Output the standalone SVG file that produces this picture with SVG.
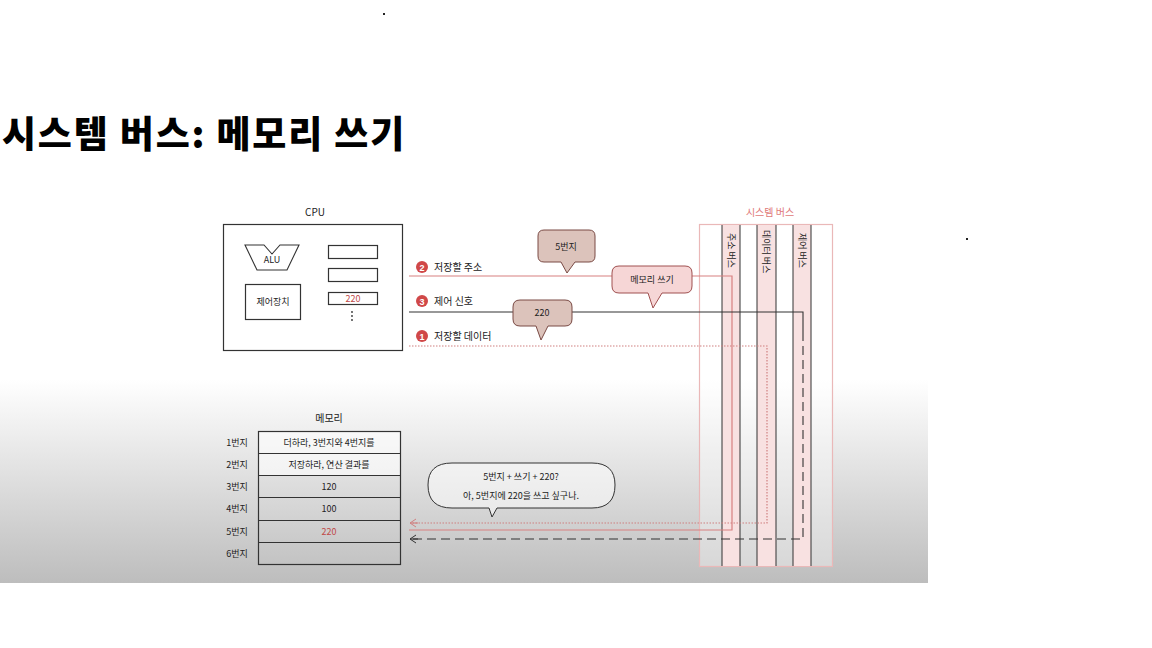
<svg xmlns="http://www.w3.org/2000/svg" width="1152" height="648" viewBox="0 0 1152 648">
<defs>
<linearGradient id="bg" x1="0" y1="380" x2="0" y2="583" gradientUnits="userSpaceOnUse">
<stop offset="0" stop-color="#ffffff"/>
<stop offset="1" stop-color="#bdbdbd"/>
</linearGradient>
<marker id="chevR" markerWidth="10" markerHeight="10" refX="7" refY="5" orient="auto" markerUnits="userSpaceOnUse">
<polyline points="1,1 7,5 1,9" fill="none" stroke="#d08080" stroke-width="1"/>
</marker>
<marker id="chevK" markerWidth="10" markerHeight="10" refX="7" refY="5" orient="auto" markerUnits="userSpaceOnUse">
<polyline points="1,1 7,5 1,9" fill="none" stroke="#333" stroke-width="1"/>
</marker>
</defs>
<style>
text{font-family:"Noto Sans CJK KR","Noto Sans",sans-serif;fill:#222}
.t{font-size:10px}
.s{font-size:9px}
.red{fill:#c04848}
.box{fill:#fff;stroke:#333;stroke-width:1.2}
.cell{fill:none;stroke:#333;stroke-width:1}
.bubB{fill:#dcc3bb;stroke:#7a4a44;stroke-width:1}
.bubP{fill:#f6d6d6;stroke:#a05050;stroke-width:1}
.num{fill:#d04848}
.numt{fill:#fff;font-size:9px;font-weight:bold;font-family:"Liberation Sans",sans-serif}
.busl{stroke:#333;stroke-width:1}
.pcol{fill:#f8e1e1}
</style>
<rect x="0" y="180" width="928" height="403" fill="url(#bg)"/>
<rect x="383" y="13" width="2" height="2" fill="#222"/>
<rect x="966" y="238" width="2" height="2" fill="#222"/>
<text x="2" y="148" style="font-size:37px;font-weight:900;fill:#000;letter-spacing:1.8px">시스템 버스: 메모리 쓰기</text>

<g id="bus">
<text x="770" y="216" text-anchor="middle" style="font-size:10px;fill:#e07878">시스템 버스</text>
<rect x="699.5" y="224.5" width="133" height="342" fill="#fff" fill-opacity="0.35" stroke="#eab8b8" stroke-width="1.2"/>
<rect class="pcol" x="722" y="225" width="18" height="341"/>
<rect class="pcol" x="757" y="225" width="19" height="341"/>
<rect class="pcol" x="793" y="225" width="18" height="341"/>
<line class="busl" x1="722" y1="225" x2="722" y2="566"/>
<line class="busl" x1="740" y1="225" x2="740" y2="566"/>
<line class="busl" x1="757" y1="225" x2="757" y2="566"/>
<line class="busl" x1="776" y1="225" x2="776" y2="566"/>
<line class="busl" x1="793" y1="225" x2="793" y2="566"/>
<line class="busl" x1="811" y1="225" x2="811" y2="566"/>
<text class="s" transform="translate(728,233) rotate(90)">주소 버스</text>
<text class="s" transform="translate(763,230) rotate(90)">데이터 버스</text>
<text class="s" transform="translate(799,233) rotate(90)">제어 버스</text>
</g>

<g id="connectors">
<polyline points="409,276 732,276 732,530 409,530" fill="none" stroke="#d88080" stroke-width="1.2"/>
<polyline points="409,312 803,312 803,332" fill="none" stroke="#333" stroke-width="1.1"/>
<polyline points="803,332 803,539 412,539" fill="none" stroke="#333" stroke-width="1.1" stroke-dasharray="9 5"/>
<polyline points="409,346 767,346 767,523 412,523" fill="none" stroke="#d08080" stroke-width="1.2" stroke-dasharray="1.5 1.5"/>
<line x1="418" y1="539" x2="410" y2="539" stroke="#333" stroke-width="1.1" marker-end="url(#chevK)"/>
<line x1="418" y1="523" x2="410" y2="523" stroke="#d08080" stroke-width="1.1" marker-end="url(#chevR)"/>
</g>

<g id="labels">
<circle class="num" cx="422" cy="267" r="6"/><text class="numt" x="422" y="270.5" text-anchor="middle">2</text>
<text class="t" x="434" y="271">저장할 주소</text>
<circle class="num" cx="422" cy="301" r="6"/><text class="numt" x="422" y="304.5" text-anchor="middle">3</text>
<text class="t" x="434" y="305">제어 신호</text>
<circle class="num" cx="422" cy="336" r="6"/><text class="numt" x="422" y="339.5" text-anchor="middle">1</text>
<text class="t" x="434" y="340">저장할 데이터</text>
</g>

<g id="bubble-addr">
<path class="bubB" d="M546,230 H589 Q595,230 595,236 V256 Q595,262 589,262 H575 L567,273 L561,262 H544 Q538,262 538,256 V236 Q538,230 544,230 Z"/>
<text class="s" x="566" y="250" text-anchor="middle">5번지</text>
</g>
<g id="bubble-write">
<path class="bubP" d="M619,266 H685 Q692,266 692,273 V286 Q692,293 685,293 H662 L653,308 L648,293 H619 Q612,293 612,286 V273 Q612,266 619,266 Z"/>
<text class="s" x="652" y="283" text-anchor="middle">메모리 쓰기</text>
</g>
<g id="bubble-data">
<path class="bubB" d="M520,300 H565 Q572,300 572,307 V319 Q572,326 565,326 H548 L541,340 L536,326 H520 Q513,326 513,319 V307 Q513,300 520,300 Z"/>
<text class="s" x="542" y="316" text-anchor="middle">220</text>
</g>

<g id="cpu">
<text class="t" x="315" y="216" text-anchor="middle">CPU</text>
<rect class="box" x="223.5" y="224.5" width="179" height="126"/>
<path d="M245,245 H264 L272,254 L280,245 H299 L287,270 H257 Z" fill="#fff" stroke="#333" stroke-width="1.1"/>
<text class="s" x="272" y="263" text-anchor="middle">ALU</text>
<rect class="box" x="245.5" y="284.5" width="55" height="35"/>
<text class="s" x="273" y="305" text-anchor="middle">제어장치</text>
<rect class="box" x="328.5" y="245.5" width="49" height="13"/>
<rect class="box" x="328.5" y="268.5" width="49" height="13"/>
<rect class="box" x="328.5" y="292.5" width="49" height="12"/>
<text class="s red" x="353" y="302" text-anchor="middle">220</text>
<circle cx="352" cy="312" r="0.9" fill="#333"/>
<circle cx="352" cy="316" r="0.9" fill="#333"/>
<circle cx="352" cy="320" r="0.9" fill="#333"/>
</g>

<g id="memory">
<text class="t" x="329" y="422" text-anchor="middle">메모리</text>
<rect x="259" y="432" width="141" height="43" fill="#fff" fill-opacity="0.6"/>
<rect x="258.5" y="431.5" width="142" height="133" fill="none" stroke="#333" stroke-width="1.2"/>
<line class="cell" x1="258" y1="453.5" x2="401" y2="453.5"/>
<line class="cell" x1="258" y1="475.5" x2="401" y2="475.5"/>
<line class="cell" x1="258" y1="497.5" x2="401" y2="497.5"/>
<line class="cell" x1="258" y1="520.5" x2="401" y2="520.5"/>
<line class="cell" x1="258" y1="542.5" x2="401" y2="542.5"/>
<text class="s" x="237" y="446" text-anchor="middle">1번지</text>
<text class="s" x="237" y="468" text-anchor="middle">2번지</text>
<text class="s" x="237" y="490" text-anchor="middle">3번지</text>
<text class="s" x="237" y="512" text-anchor="middle">4번지</text>
<text class="s" x="237" y="535" text-anchor="middle">5번지</text>
<text class="s" x="237" y="557" text-anchor="middle">6번지</text>
<text class="s" x="329" y="446" text-anchor="middle">더하라, 3번지와 4번지를</text>
<text class="s" x="329" y="468" text-anchor="middle">저장하라, 연산 결과를</text>
<text class="s" x="329" y="490" text-anchor="middle">120</text>
<text class="s" x="329" y="512" text-anchor="middle">100</text>
<text class="s red" x="329" y="535" text-anchor="middle">220</text>
</g>

<g id="speech">
<path d="M452,463 H592 Q615,463 615,485 Q615,508 592,508 H497 L492,517 L489,508 H452 Q428,508 428,485 Q428,463 452,463 Z" fill="#fff" fill-opacity="0.5" stroke="#333" stroke-width="1"/>
<text class="s" x="521" y="480" text-anchor="middle">5번지 + 쓰기 + 220?</text>
<text class="s" x="521" y="499" text-anchor="middle">아, 5번지에 220을 쓰고 싶구나.</text>
</g>
</svg>
